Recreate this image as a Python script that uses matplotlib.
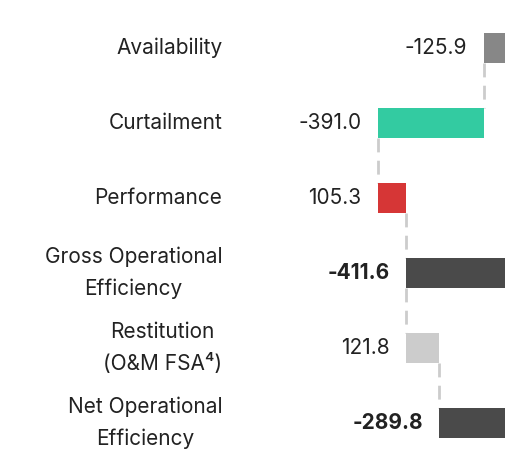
import numpy as np
import matplotlib
matplotlib.use("Agg")
import matplotlib.pyplot as plt

plt.rcParams['font.family'] = ['Inter', 'DejaVu Sans']

categories = ['Availability', 'Curtailment', 'Performance',
              'Gross Operational\nEfficiency', 'Restitution\n(O&M FSA\u2074)',
              'Net Operational\nEfficiency']
values = [-125.9, -391.0, 105.3, -411.6, 121.8, -289.8]
is_total = [False, False, False, True, False, True]
colors = ['#878787', '#33cba1', '#d63636', '#4a4a4a', '#cccccc', '#4a4a4a']

# waterfall: start/end of every bar
starts, ends = [], []
run = 0.0
for v, tot in zip(values, is_total):
    if tot:
        starts.append(0.0)
        ends.append(v)
        run = v
    else:
        starts.append(run)
        run = run + v
        ends.append(run)

fig = plt.figure(figsize=(5.05, 4.49), dpi=100)
ax = fig.add_axes([232 / 505, 0, 273 / 505, 1])

y = np.arange(len(categories))
h = 0.4
left = [min(s, e) for s, e in zip(starts, ends)]
width = [abs(e - s) for s, e in zip(starts, ends)]
ax.barh(y, width, left=left, height=h, color=colors)

# dashed connectors
for i in range(len(values) - 1):
    ax.plot([ends[i], ends[i]], [y[i] + h / 2, y[i + 1] - h / 2],
            color='#cccccc', lw=2, ls=(0, (5, 3)), zorder=0)

# value labels left of bars
for i, v in enumerate(values):
    ax.annotate(f'{v:.1f}', (left[i], y[i]), xytext=(-12, 0),
                textcoords='offset points', ha='right', va='center',
                fontsize=15, color='#222222',
                fontweight='bold' if is_total[i] else 'normal')

ax.set_yticks(y)
ax.set_yticklabels(categories, fontsize=15, color='#222222',
                   multialignment='center', linespacing=1.68, va='center')
ax.tick_params(axis='y', length=0, pad=7)
ax.set_xticks([])
ax.set_xlim(-1055, -48)
ax.set_ylim(5.347, -0.64)
for s in ax.spines.values():
    s.set_visible(False)

fig.savefig('out.png', dpi=100)
